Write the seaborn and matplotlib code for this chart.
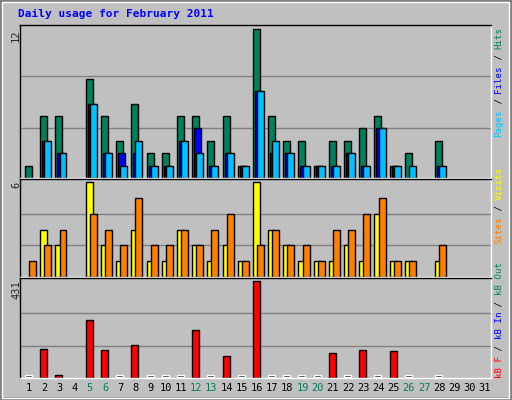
import numpy as np
import pandas as pd
import matplotlib
matplotlib.use("Agg")
import matplotlib.pyplot as plt
import seaborn as sns
from matplotlib.patches import Rectangle

days = list(range(1, 32))
hits  = [1,5,5,0,8,5,3,6,2,2,5,5,3,5,1,12,5,3,3,1,3,3,4,5,1,2,0,3,0,0,0]
files = [0,3,2,0,6,2,2,2,1,1,3,4,1,2,1,7,2,2,1,1,1,2,1,4,1,0,0,1,0,0,0]
pages = [0,3,2,0,6,2,1,3,1,1,3,2,1,2,1,7,3,2,1,1,1,2,1,4,1,1,0,1,0,0,0]
visits = [0,3,2,0,6,2,1,3,1,1,3,2,1,2,1,6,3,2,1,1,1,2,1,4,1,1,0,1,0,0,0]
sites  = [1,2,3,0,4,3,2,5,2,2,3,2,3,4,1,2,3,2,2,1,3,3,4,5,1,1,0,2,0,0,0]
kbytes = [0,129,13,None,256,124,0,148,0,0,0,214,0,98,0,431,0,0,0,0,110,0,124,0,120,0,None,0,None,None,None]
weekend = [5,6,12,13,19,20,26,27]

W, H = 512, 400
fig = plt.figure(figsize=(W/100, H/100), dpi=100)
sns.set_style("white")
plt.rcParams['font.family'] = ['DejaVu Sans Mono']
fig.patch.set_facecolor("#c0c0c0")
BG = "#c0c0c0"
mono = "DejaVu Sans Mono"

fig.add_artist(Rectangle((0, 0), 1, 1, transform=fig.transFigure, fill=False, ec="#808080", lw=4))
fig.add_artist(Rectangle((0.004, 0.006), 0.99, 0.99, transform=fig.transFigure, fill=False, ec="white", lw=1))

def ax_px(x0, y0, x1, y1):
    return fig.add_axes([x0/W, 1-y1/H, (x1-x0)/W, (y1-y0)/H])

L, R = 20, 491
axs = [ax_px(L, 25, R, 178), ax_px(L, 179, R, 277), ax_px(L, 278, R, 378)]
for ax in axs:
    ax.set_facecolor(BG)
    ax.set_xlim(0.5, 31.5)
    ax.set_xticks([]); ax.set_yticks([])
    for s in ax.spines.values():
        s.set_color("black"); s.set_linewidth(1)
    ax.spines['right'].set_color("white"); ax.spines['bottom'].set_color("white")

x = np.array(days, dtype=float)
bw = 0.46
kw = dict(edgecolor="black", linewidth=1, align="edge", width=bw)
def nz(a): return np.array([v if v else 0 for v in a], float)

ax = axs[0]
ax.set_ylim(0, 12.35)
for g in (4, 8.2):
    ax.axhline(g, color="#808080", lw=1, zorder=0)
m = nz(hits) > 0
ax.bar(x[m]-0.17, nz(hits)[m], color="#00805c", **kw)
m = nz(files) > 0
ax.bar(x[m]-0.04, nz(files)[m], color="#0000ff", **kw)
m = nz(pages) > 0
ax.bar(x[m]+0.1, nz(pages)[m], color="#00c0ff", **kw)

ax = axs[1]
ax.set_ylim(0, 6.2)
for g in (2, 4):
    ax.axhline(g, color="#808080", lw=1, zorder=0)
m = nz(visits) > 0
ax.bar(x[m]-0.17, nz(visits)[m], color="#ffff00", **kw)
m = nz(sites) > 0
ax.bar(x[m]+0.1, nz(sites)[m], color="#ff8000", **kw)

ax = axs[2]
ax.set_ylim(0, 445)
for g in (144, 288):
    ax.axhline(g, color="#808080", lw=1, zorder=0)
df = pd.DataFrame({"day": days, "kb": kbytes}).dropna()
kx = df["day"].to_numpy(float) - 0.17
ky = df["kb"].to_numpy(float)
mk = ky > 0
ax.bar(kx[mk], ky[mk], color="#ff0000", **kw)
nzero = int((~mk).sum())
ax.bar(kx[~mk], [9]*nzero, bottom=[3]*nzero, color="black", align="edge", width=bw)
sns.despine(ax=ax, top=False, right=False, left=False, bottom=False)

for d in days:
    px = L + (d - 0.5) * (R - L) / 31 + 0.1*(R-L)/31
    fig.text(px/W, 1-388/H, str(d), ha="center", va="center", fontsize=7.5, family=mono,
             color="#00805c" if d in weekend else "black")

fig.text(18/W, 1-9/H, "Daily usage for February 2011", ha="left", va="top",
         fontsize=8, family=mono, color="#0000ff", weight="bold")
for lab, y in (("12", 29), ("6", 182), ("431", 280)):
    fig.text(16/W, 1-y/H, lab, rotation=90, ha="center", va="top", fontsize=7.5, family=mono)

def vlabel(parts, ybottom, fs=6.6):
    cw = fs*100/72*0.602
    y = ybottom
    for t, c in parts:
        fig.text(499/W, 1-y/H, t, rotation=90, ha="center", va="bottom", fontsize=fs,
                 family=mono, color=c)
        y -= len(t)*cw

vlabel([("Pages", "#00c0ff"), (" / ", "black"), ("Files", "#0000ff"), (" / ", "black"), ("Hits", "#00805c")], 137)
vlabel([("Sites", "#ff8000"), (" / ", "black"), ("Visits", "#ffff00")], 244)
vlabel([("kB F", "#ff0000"), (" / ", "black"), ("kB In", "#0000ff"), (" / ", "black"), ("kB Out", "#00805c")], 378)

fig.savefig("out.png", dpi=100, facecolor=fig.get_facecolor())
